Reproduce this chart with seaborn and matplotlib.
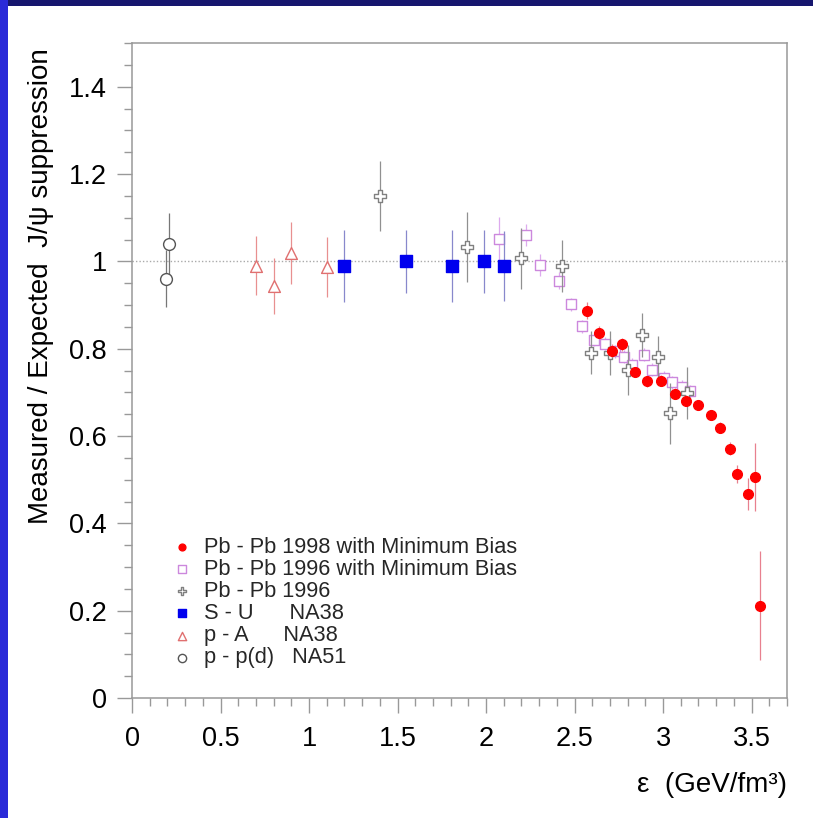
import numpy as np
import pandas as pd
import matplotlib
matplotlib.use("Agg")
import matplotlib.pyplot as plt
import seaborn as sns
from matplotlib.patches import Rectangle
from matplotlib.ticker import MultipleLocator, FormatStrFormatter

# ---------------- data ----------------
pbpb98_x = [2.57, 2.64, 2.71, 2.77, 2.84, 2.91, 2.99, 3.07, 3.13, 3.20, 3.27, 3.32, 3.38, 3.42, 3.48, 3.52, 3.55]
pbpb98_y = [0.887, 0.837, 0.795, 0.810, 0.746, 0.725, 0.727, 0.697, 0.681, 0.671, 0.648, 0.619, 0.571, 0.513, 0.467, 0.507, 0.211]
pbpb98_e = [0.020, 0.015, 0.015, 0.015, 0.012, 0.012, 0.012, 0.012, 0.012, 0.012, 0.012, 0.012, 0.015, 0.020, 0.037, 0.078, 0.125]

pbpb96mb_x = [2.075, 2.227, 2.302, 2.41, 2.482, 2.542, 2.608, 2.674, 2.73, 2.781, 2.825, 2.894, 2.938, 3.004, 3.051, 3.107, 3.154]
pbpb96mb_y = [1.051, 1.061, 0.992, 0.956, 0.902, 0.851, 0.820, 0.811, 0.794, 0.782, 0.763, 0.786, 0.752, 0.733, 0.723, 0.713, 0.702]
pbpb96mb_e = [0.050, 0.025, 0.025, 0.020, 0.015, 0.015, 0.015, 0.015, 0.015, 0.015, 0.015, 0.015, 0.015, 0.015, 0.015, 0.015, 0.015]

pbpb96_x = [1.40, 1.89, 2.20, 2.43, 2.59, 2.70, 2.80, 2.88, 2.97, 3.04, 3.135]
pbpb96_y = [1.150, 1.032, 1.007, 0.990, 0.791, 0.790, 0.752, 0.832, 0.782, 0.652, 0.698]
pbpb96_e = [0.080, 0.080, 0.070, 0.060, 0.050, 0.050, 0.057, 0.050, 0.048, 0.070, 0.060]

su_x = [1.20, 1.55, 1.81, 1.99, 2.10]
su_y = [0.990, 1.000, 0.990, 1.000, 0.990]
su_e = [0.082, 0.072, 0.082, 0.072, 0.080]

pa_x = [0.70, 0.80, 0.90, 1.10]
pa_y = [0.990, 0.943, 1.019, 0.987]
pa_e = [0.068, 0.064, 0.070, 0.068]

pp_x = [0.19, 0.21]
pp_y = [0.960, 1.040]
pp_e = [0.065, 0.070]

labels = ["Pb - Pb 1998 with Minimum Bias",
          "Pb - Pb 1996 with Minimum Bias",
          "Pb - Pb 1996",
          "S - U      NA38",
          "p - A      NA38",
          "p - p(d)   NA51"]

# ---------------- style ----------------
sns.set_theme(style="ticks")
plt.rcParams["font.family"] = ["Liberation Sans", "DejaVu Sans"]

fig = plt.figure(figsize=(8.13, 8.18), dpi=100)
fig.patch.set_facecolor("white")
# presentation frame
fig.patches.append(Rectangle((0, 1 - 6 / 818), 1, 6 / 818, transform=fig.transFigure,
                             facecolor="#16166e", edgecolor="none", zorder=0))
fig.patches.append(Rectangle((0, 0), 8 / 813, 1, transform=fig.transFigure,
                             facecolor="#2a2ad8", edgecolor="none", zorder=0))

ax = fig.add_axes([132 / 813, 1 - 698 / 818, 655 / 813, 655 / 818])
ax.set_facecolor("white")

ax.axhline(1.0, color="#aaaaaa", linestyle=(0, (1, 1.5)), linewidth=1.0, zorder=1)

series = [
    # x, y, err, marker, size, face, edge, errcolor, zorder
    (pp_x, pp_y, pp_e, "o", 8.5, "white", "#555555", "#777777", 3),
    (pa_x, pa_y, pa_e, "^", 8.5, "white", "#e07070", "#e89090", 3),
    (su_x, su_y, su_e, "s", 8.0, "#0000ee", "#0000ee", "#8888cc", 4),
    (pbpb96mb_x, pbpb96mb_y, pbpb96mb_e, "s", 7.5, "white", "#cc88dd", "#ddaaee", 3),
    (pbpb96_x, pbpb96_y, pbpb96_e, "P", 8.5, "white", "#808080", "#909090", 5),
    (pbpb98_x, pbpb98_y, pbpb98_e, "o", 7.0, "#ff0000", "#ff0000", "#e8808f", 6),
]
legend_idx = [5, 3, 4, 2, 1, 0]
label_for = {5: labels[0], 3: labels[1], 4: labels[2], 2: labels[3], 1: labels[4], 0: labels[5]}

handles = {}
for i, (x, y, e, m, ms, fc, ec, erc, z) in enumerate(series):
    ax.errorbar(x, y, yerr=e, fmt="none", ecolor=erc, elinewidth=0.9, capsize=0, zorder=z - 0.5)
    df = pd.DataFrame({"x": x, "y": y})
    sns.scatterplot(data=df, x="x", y="y", marker=m, s=ms ** 2, facecolor=fc,
                    edgecolor=ec, linewidth=1.0, ax=ax, zorder=z, legend=False)
    handles[i] = ax.collections[-1]

ax.set_xlim(0, 3.7)
ax.set_ylim(0, 1.5)
ax.xaxis.set_major_locator(MultipleLocator(0.5))
ax.xaxis.set_minor_locator(MultipleLocator(0.1))
ax.yaxis.set_major_locator(MultipleLocator(0.2))
ax.yaxis.set_minor_locator(MultipleLocator(0.05))
ax.xaxis.set_major_formatter(FormatStrFormatter("%g"))
ax.yaxis.set_major_formatter(FormatStrFormatter("%g"))

for s in ax.spines.values():
    s.set_color("#999999")
    s.set_linewidth(1.1)
ax.tick_params(which="major", direction="out", length=11, width=1.0, color="#999999",
               labelsize=19.5, labelcolor="black", pad=7)
ax.tick_params(which="minor", direction="out", length=5.5, width=1.0, color="#999999")
ax.tick_params(axis="x", which="major", pad=9)

ax.set_xlabel("ε  (GeV/fm³)", fontsize=20, color="black", ha="right", va="center")
ax.xaxis.set_label_coords(1.0, -0.133)
ax.set_ylabel("Measured / Expected  J/ψ suppression", fontsize=20, color="black",
              va="center", ha="center")
ax.yaxis.set_label_coords(-0.139, 0.629)

leg = ax.legend([handles[k] for k in legend_idx], [label_for[k] for k in legend_idx],
                loc="upper left", bbox_to_anchor=(0.060, 0.246), frameon=False,
                borderpad=0, borderaxespad=0, handlelength=1.0, handletextpad=0.5,
                labelspacing=0.05, markerscale=0.7,
                prop={"size": 15.7, "family": ["Liberation Sans", "DejaVu Sans"]})

fig.savefig("out.png", dpi=100, facecolor=fig.get_facecolor())
